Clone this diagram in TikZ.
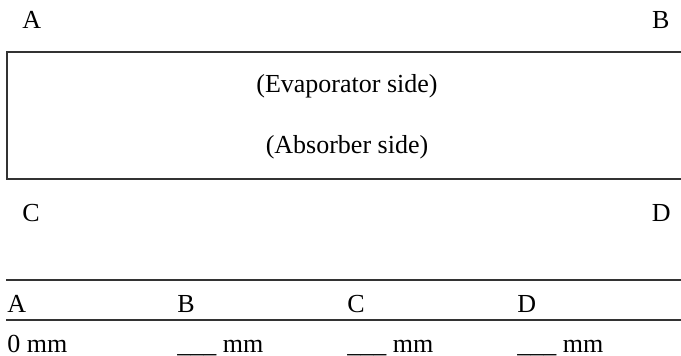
\documentclass[tikz,border=0pt]{standalone}
\usepackage{fontspec}
\setmainfont{Liberation Serif}
\usetikzlibrary{positioning, calc}

\begin{document}
\begin{tikzpicture}[
    x=0.4615pt, y=-0.4615pt,
    label/.style={inner sep=0pt, font=\fontsize{12pt}{14pt}\selectfont},
    rule/.style={draw=black!80, line width=0.5pt}
]
    \useasboundingbox (0,0) rectangle (681,356);

    % Corner labels
    \node [label, anchor=base west] (a) at (22,29) {A};
    \node [label, anchor=base east] (b) at (670,29) {B};
    \node [label, anchor=base west] (c) at (22,222) {C};
    \node [label, anchor=base east] (d) at (671,222) {D};

    % Plate (open on the right)
    \draw [rule] (681,52) -- (7,52) -- (7,179) -- (681,179);
    \node [label] (evap) at (347,86) {(Evaporator side)};
    \node [label] (abs) at (347,147) {(Absorber side)};

    % Table
    \draw [rule] (6,280) -- (681,280);
    \draw [rule] (6,320) -- (681,320);
    \node [label, anchor=base west] (ha) at (7,313) {A};
    \node [label, anchor=base west] (hb) at (177,313) {B};
    \node [label, anchor=base west] (hc) at (347,313) {C};
    \node [label, anchor=base west] (hd) at (517,313) {D};
    \node [label, anchor=base west] (va) at (7,352) {0 mm};
    \node [label, anchor=base west] (vb) at (177,352) {\_\_\_ mm};
    \node [label, anchor=base west] (vc) at (347,352) {\_\_\_ mm};
    \node [label, anchor=base west] (vd) at (517,352) {\_\_\_ mm};

\end{tikzpicture}
\end{document}
